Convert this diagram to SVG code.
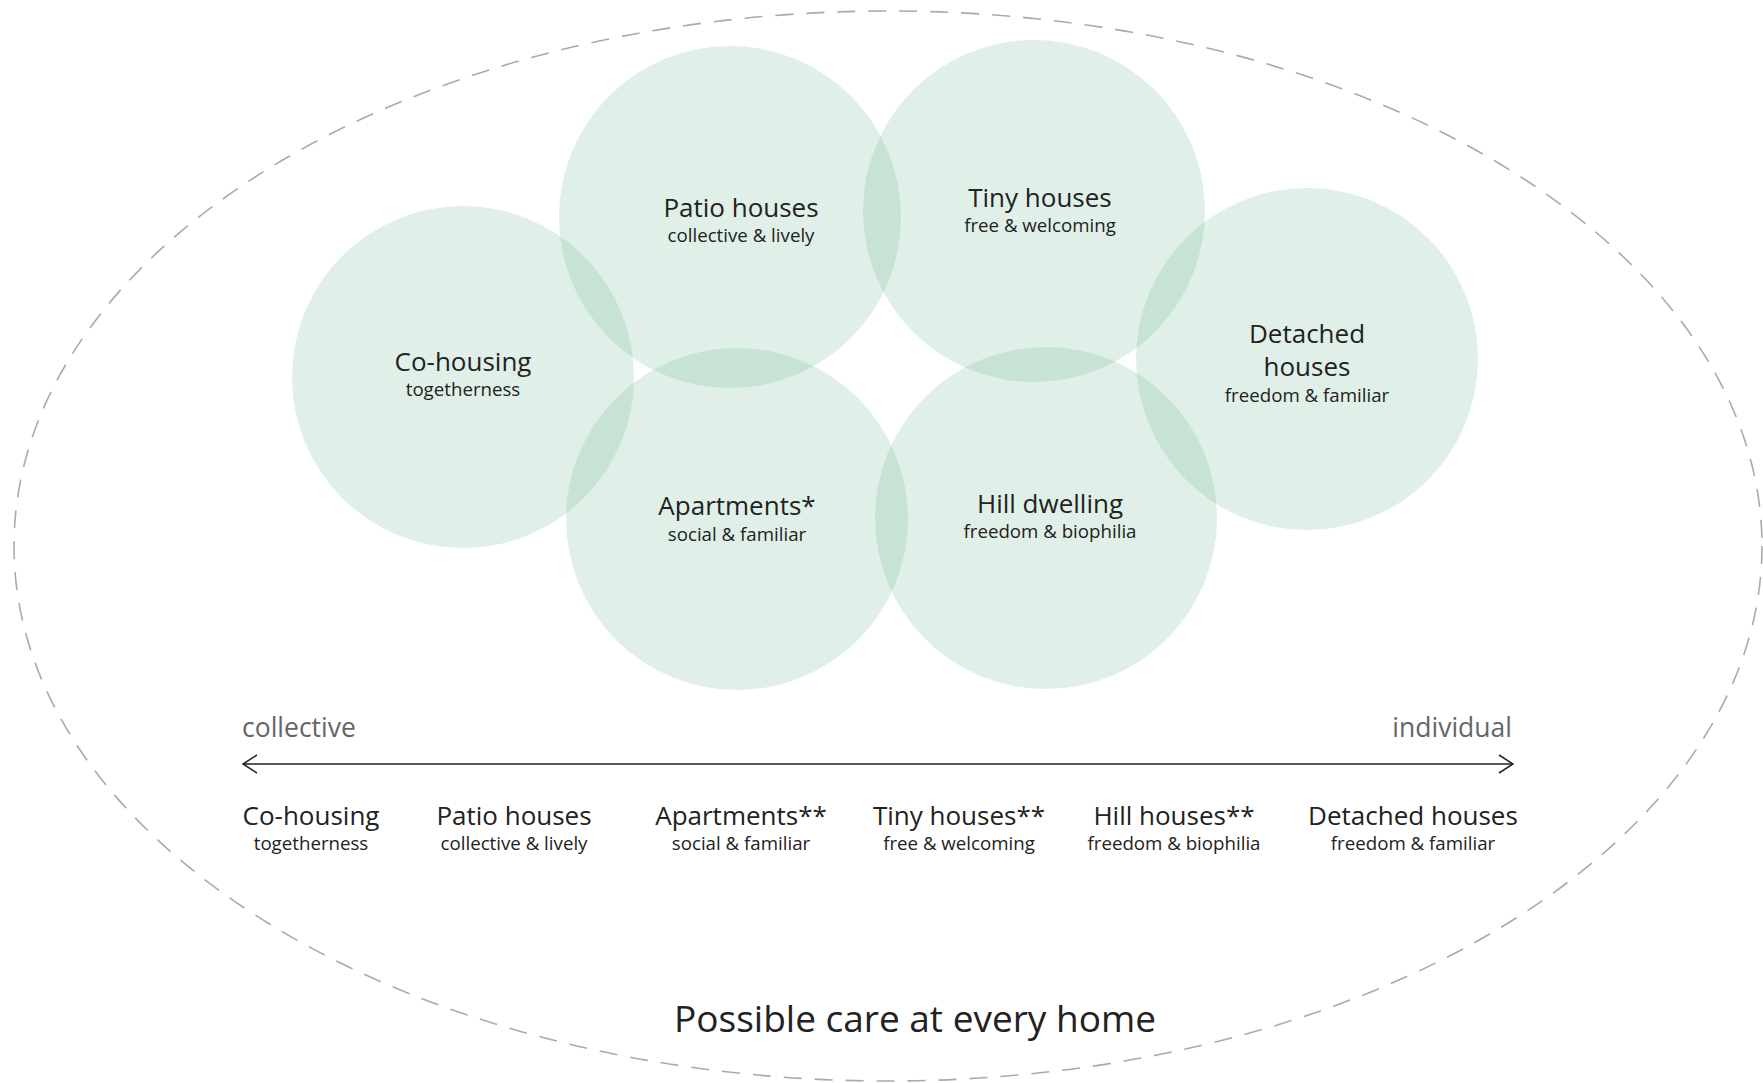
<svg xmlns="http://www.w3.org/2000/svg" width="1763" height="1083" viewBox="0 0 1763 1083">
<defs>
<style>
.c{fill:rgb(70,165,120);fill-opacity:0.17;}
.t{font-family:"Open Sans","Noto Sans",sans-serif;fill:#222;text-anchor:middle;}
.h{font-size:26px;}
.s{font-size:18.7px;}
.ax{font-family:"Open Sans","Noto Sans",sans-serif;fill:#666;font-size:26.5px;}
</style>
<marker id="ah" viewBox="0 0 16 20" refX="15" refY="10" markerWidth="16" markerHeight="20" markerUnits="userSpaceOnUse" orient="auto-start-reverse">
<path d="M1,1 L15,10 L1,19" fill="none" stroke="#222" stroke-width="1.5"/>
</marker>
</defs>
<rect width="1763" height="1083" fill="#fff"/>
<ellipse id="outer" cx="888" cy="546" rx="874" ry="535" fill="none" stroke="#aaa" stroke-width="1.6" stroke-dasharray="18 13"/>
<g id="node-cohousing"><circle class="c" cx="463" cy="377" r="171"/><text class="t h" x="463" y="371">Co-housing</text><text class="t s" x="463" y="396">togetherness</text></g>
<g id="node-patio"><circle class="c" cx="730" cy="217" r="171"/><text class="t h" x="741" y="217">Patio houses</text><text class="t s" x="741" y="242">collective &amp; lively</text></g>
<g id="node-tiny"><circle class="c" cx="1034" cy="211" r="171"/><text class="t h" x="1040" y="207">Tiny houses</text><text class="t s" x="1040" y="232">free &amp; welcoming</text></g>
<g id="node-detached"><circle class="c" cx="1307" cy="359" r="171"/><text class="t h" x="1307" y="343">Detached</text><text class="t h" x="1307" y="376">houses</text><text class="t s" x="1307" y="402">freedom &amp; familiar</text></g>
<g id="node-apartments"><circle class="c" cx="737" cy="519" r="171"/><text class="t h" x="737" y="515">Apartments*</text><text class="t s" x="737" y="541">social &amp; familiar</text></g>
<g id="node-hill"><circle class="c" cx="1046" cy="518" r="171"/><text class="t h" x="1050" y="513">Hill dwelling</text><text class="t s" x="1050" y="538">freedom &amp; biophilia</text></g>
<g id="connectors">
<line x1="243" y1="764" x2="1513" y2="764" stroke="#222" stroke-width="1.4" marker-start="url(#ah)" marker-end="url(#ah)"/>
</g>
<g id="axis-labels">
<text class="ax" x="242" y="737">collective</text>
<text class="ax" x="1512" y="737" text-anchor="end">individual</text>
</g>
<g id="scale">
<text class="t h" x="311" y="825">Co-housing</text><text class="t s" x="311" y="850">togetherness</text>
<text class="t h" x="514" y="825">Patio houses</text><text class="t s" x="514" y="850">collective &amp; lively</text>
<text class="t h" x="741" y="825">Apartments**</text><text class="t s" x="741" y="850">social &amp; familiar</text>
<text class="t h" x="959" y="825">Tiny houses**</text><text class="t s" x="959" y="850">free &amp; welcoming</text>
<text class="t h" x="1174" y="825">Hill houses**</text><text class="t s" x="1174" y="850">freedom &amp; biophilia</text>
<text class="t h" x="1413" y="825">Detached houses</text><text class="t s" x="1413" y="850">freedom &amp; familiar</text>
</g>
<text id="caption" class="t" x="915" y="1032" font-size="37">Possible care at every home</text>
</svg>
